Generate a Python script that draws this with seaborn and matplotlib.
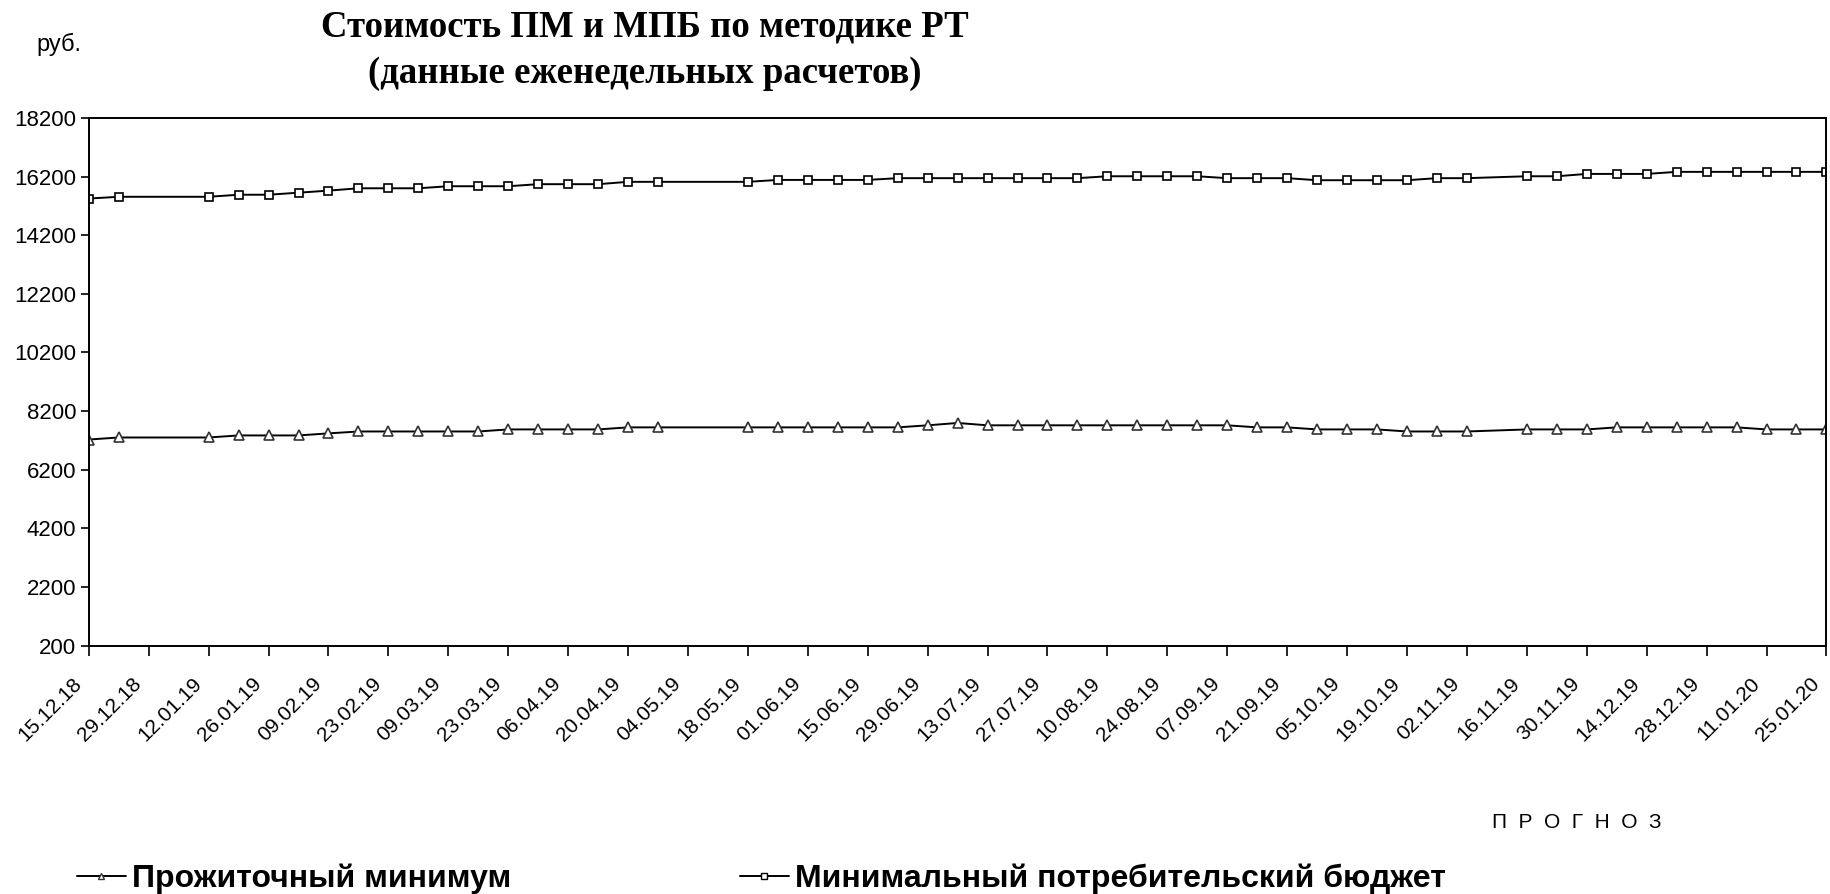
import pandas as pd
import matplotlib
matplotlib.use("Agg")
import matplotlib.pyplot as plt
import matplotlib.transforms as mtransforms
import seaborn as sns
from matplotlib.lines import Line2D

# =========================
# data
# =========================
dates = [
    "15.12.2018", "22.12.2018",
    "12.01.2019", "19.01.2019", "26.01.2019", "02.02.2019", "09.02.2019", "16.02.2019",
    "23.02.2019", "02.03.2019", "09.03.2019", "16.03.2019", "23.03.2019", "30.03.2019",
    "06.04.2019", "13.04.2019", "20.04.2019", "27.04.2019",
    "18.05.2019", "25.05.2019", "01.06.2019", "08.06.2019", "15.06.2019", "22.06.2019",
    "29.06.2019", "06.07.2019", "13.07.2019", "20.07.2019", "27.07.2019", "03.08.2019",
    "10.08.2019", "17.08.2019", "24.08.2019", "31.08.2019", "07.09.2019", "14.09.2019",
    "21.09.2019", "28.09.2019", "05.10.2019", "12.10.2019", "19.10.2019", "26.10.2019",
    "02.11.2019",
    "16.11.2019", "23.11.2019", "30.11.2019", "07.12.2019", "14.12.2019", "21.12.2019",
    "28.12.2019", "04.01.2020", "11.01.2020", "18.01.2020", "25.01.2020",
]

# прожиточный минимум
pm = [
    7230, 7300,
    7300, 7370, 7370, 7370, 7440, 7505, 7505, 7505, 7505, 7505,
    7575, 7575, 7575, 7575, 7645, 7645,
    7645, 7645, 7645, 7645, 7645, 7645, 7715, 7795, 7715, 7715,
    7715, 7715, 7715, 7715, 7715, 7715, 7715, 7645, 7645, 7575,
    7575, 7575, 7505, 7505, 7505,
    7575, 7575, 7575, 7645, 7645, 7645, 7645, 7645, 7575, 7575, 7575,
]

# минимальный потребительский бюджет
mpb = [
    15450, 15510,
    15510, 15580, 15580, 15650, 15720, 15800, 15800, 15800, 15870, 15870,
    15870, 15940, 15940, 15940, 16020, 16020,
    16020, 16085, 16085, 16085, 16085, 16145, 16145, 16145, 16145, 16145,
    16145, 16145, 16210, 16210, 16210, 16210, 16145, 16145, 16145, 16075,
    16075, 16075, 16075, 16145, 16145,
    16210, 16210, 16290, 16290, 16290, 16360, 16360, 16360, 16360, 16360, 16360,
]

tick_labels = [
    "15.12.18", "29.12.18", "12.01.19", "26.01.19", "09.02.19", "23.02.19",
    "09.03.19", "23.03.19", "06.04.19", "20.04.19", "04.05.19", "18.05.19",
    "01.06.19", "15.06.19", "29.06.19", "13.07.19", "27.07.19", "10.08.19",
    "24.08.19", "07.09.19", "21.09.19", "05.10.19", "19.10.19", "02.11.19",
    "16.11.19", "30.11.19", "14.12.19", "28.12.19", "11.01.20", "25.01.20",
]

label_pm = "Прожиточный минимум"
label_mpb = "Минимальный потребительский бюджет"

df = pd.DataFrame({
    "date": pd.to_datetime(dates, format="%d.%m.%Y"),
    "pm": pm,
    "mpb": mpb,
})
ticks = pd.to_datetime(tick_labels, format="%d.%m.%y")

# =========================
# style
# =========================
sns.set_theme(style="white")
plt.rcParams["font.family"] = ["Liberation Sans", "DejaVu Sans"]
plt.rcParams["axes.unicode_minus"] = False
for k in ["text.color", "axes.labelcolor", "xtick.color", "ytick.color", "axes.edgecolor"]:
    plt.rcParams[k] = "black"

fig = plt.figure(figsize=(18.31, 8.94), dpi=100)
ax = fig.add_axes([0.0485, 0.2778, 0.9490, 0.5903])

sns.lineplot(
    data=df, x="date", y="mpb", ax=ax, color="black", linewidth=1.4,
    marker="s", markersize=5.5, markerfacecolor="white",
    markeredgecolor="black", markeredgewidth=1.2,
)
sns.lineplot(
    data=df, x="date", y="pm", ax=ax, color="black", linewidth=1.4,
    marker="^", markersize=6.5, markerfacecolor="white",
    markeredgecolor="#333333", markeredgewidth=1.2,
)

ax.set_xlim(ticks[0], ticks[-1])
ax.set_ylim(200, 18200)
ax.set_yticks(range(200, 18201, 2000))
ax.set_xticks(ticks)
ax.set_xticklabels(tick_labels, rotation=45, ha="right", va="center",
                   rotation_mode="anchor")
ax.set_xlabel("")
ax.set_ylabel("")

for s in ax.spines.values():
    s.set_color("black")
    s.set_linewidth(1.4)

ax.tick_params(axis="y", direction="out", length=6, width=1.2,
               labelsize=16, pad=3, left=True)
ax.tick_params(axis="x", direction="out", length=7, width=1.2,
               labelsize=15, pad=18, bottom=True)

# shift the rotated date labels a little to the left, like Excel does
shift = mtransforms.ScaledTranslation(-10 / 100, 0, fig.dpi_scale_trans)
for lbl in ax.get_xticklabels():
    lbl.set_transform(lbl.get_transform() + shift)

# =========================
# texts
# =========================
serif = ["Liberation Serif", "DejaVu Serif"]
fig.text(0.352, 0.970, "Стоимость ПМ и МПБ по методике РТ", ha="center", va="center",
         family=serif, fontweight="bold", fontsize=26.5)
fig.text(0.352, 0.918, "(данные еженедельных расчетов)", ha="center", va="center",
         family=serif, fontweight="bold", fontsize=26.5)
fig.text(0.032, 0.950, "руб.", ha="center", va="center", fontsize=17)
fig.text(0.861, 0.0805, "П  Р  О  Г  Н  О  З", ha="center", va="center", fontsize=15)

# legend at the bottom
h_pm = Line2D([], [], color="black", linewidth=1.4, marker="^", markersize=5,
              markerfacecolor="white", markeredgecolor="#333333")
h_mpb = Line2D([], [], color="black", linewidth=1.4, marker="s", markersize=4,
               markerfacecolor="white", markeredgecolor="black")

leg_kw = dict(loc="center left", frameon=False, handlelength=1.54, handletextpad=0.2,
              borderpad=0, borderaxespad=0, prop={"weight": "bold", "size": 23})
fig.legend([h_pm], [label_pm], bbox_to_anchor=(0.042, 0.017), **leg_kw)
fig.legend([h_mpb], [label_mpb], bbox_to_anchor=(0.404, 0.017), **leg_kw)

fig.savefig("out.png", dpi=100)
